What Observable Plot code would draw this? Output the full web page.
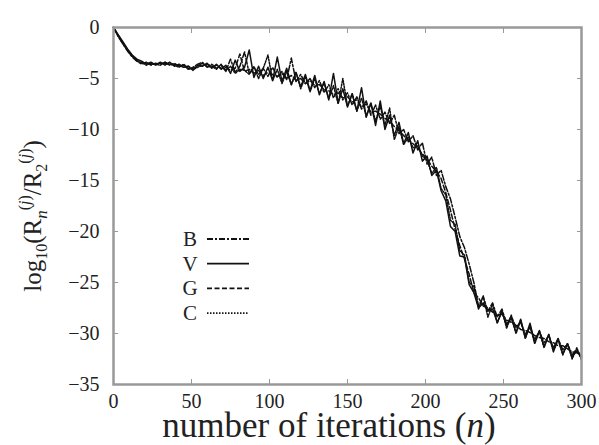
<!DOCTYPE html>
<html><head><meta charset="utf-8">
<script src="https://cdn.jsdelivr.net/npm/d3@7"></script>
<script src="https://cdn.jsdelivr.net/npm/@observablehq/plot@0.6"></script>
<style>body{margin:0;background:#fff} svg text{font-family:"Liberation Serif","Times New Roman",serif !important}</style>
</head><body><div id="chart"></div>
<script>
const seriesNames = ["B","V","G","C"];
const dashes = {B:"6,2,2,2", V:null, G:"5,2.5", C:"1.5,1.5"};
const xTicks = [0,50,100,150,200,250,300];
const yTicks = [0,-5,-10,-15,-20,-25,-30,-35];
const step = 3; // iteration spacing of the read values
const B = [0,-0.9,-1.6,-2.3,-2.9,-3.3,-3.6,-3.4,-3.7,-3.5,
 -3.6,-3.4,-3.7,-3.5,-3.8,-3.7,-4.1,-3.9,-3.6,-3.4,
 -3.9,-3.6,-4.0,-3.7,-4.3,-3.1,-4.4,-3.8,-2.4,-4.5,
 -3.9,-4.6,-4.0,-4.8,-3.9,-4.9,-4.3,-5.1,-3.0,-5.3,
 -4.6,-5.5,-5.0,-5.9,-5.2,-6.4,-5.6,-6.9,-6.0,-7.1,
 -6.4,-7.6,-6.8,-8.0,-7.2,-8.6,-7.6,-9.0,-8.3,-9.4,
 -8.6,-10.4,-10.0,-11.2,-10.6,-12.0,-11.3,-13.4,-12.7,-14.5,
 -14.0,-15.6,-16.8,-18.6,-20.5,-21.6,-23.2,-25.0,-27.3,-26.4,
 -27.8,-27.0,-28.4,-27.6,-29.1,-28.3,-29.4,-28.9,-30.1,-29.4,
 -30.6,-29.8,-30.9,-30.2,-31.4,-30.5,-31.6,-31.0,-32.1,-31.5,-32.4];
const V = [0,-0.7,-1.4,-2.1,-2.7,-3.1,-3.3,-3.6,-3.4,-3.7,
 -3.4,-3.7,-3.4,-3.8,-3.6,-3.9,-3.8,-4.2,-3.7,-3.8,
 -3.5,-4.0,-3.6,-4.1,-3.7,-4.5,-3.2,-4.3,-3.9,-2.2,
 -4.9,-3.8,-5.0,-3.9,-5.2,-2.9,-5.3,-4.0,-5.6,-4.4,
 -5.8,-4.6,-6.2,-4.7,-6.6,-5.3,-7.1,-4.5,-7.4,-6.0,
 -7.8,-6.5,-8.2,-5.9,-8.8,-7.4,-9.6,-7.2,-10.0,-8.6,
 -10.6,-9.3,-11.4,-10.3,-12.3,-11.1,-13.1,-12.6,-14.5,-14.0,
 -16.0,-17.0,-19.5,-20.0,-22.4,-22.5,-25.2,-26.0,-27.5,-27.0,
 -27.8,-27.6,-28.9,-27.9,-29.2,-28.5,-29.9,-28.6,-30.4,-29.0,
 -30.9,-29.7,-31.3,-30.1,-31.7,-30.5,-32.0,-31.0,-32.3,-31.7,-32.4];
const G = [0,-0.8,-1.5,-2.2,-2.8,-3.2,-3.5,-3.5,-3.6,-3.6,
 -3.5,-3.5,-3.6,-3.6,-3.7,-3.9,-3.8,-4.0,-3.8,-3.5,
 -3.8,-3.9,-3.7,-4.0,-3.9,-4.2,-4.0,-2.6,-4.3,-4.1,
 -4.5,-4.2,-4.7,-4.4,-4.6,-4.8,-4.5,-5.0,-4.7,-5.2,
 -5.0,-5.5,-5.2,-5.7,-5.6,-6.1,-6.2,-6.6,-6.4,-6.9,
 -6.8,-7.3,-7.1,-7.8,-7.5,-8.3,-8.2,-8.5,-8.9,-9.2,
 -9.7,-10.1,-10.6,-11.0,-11.4,-11.8,-12.4,-12.9,-13.6,-14.1,
 -14.8,-16.2,-17.9,-19.8,-21.4,-22.7,-24.2,-26.0,-26.5,-27.3,
 -27.5,-27.9,-28.2,-28.1,-28.7,-28.9,-29.2,-29.6,-29.7,-29.9,
 -30.2,-30.4,-30.5,-30.8,-30.9,-31.2,-31.2,-31.5,-31.8,-31.9,-32.2];
const C = [0,-0.8,-1.6,-2.3,-2.8,-3.3,-3.4,-3.7,-3.5,-3.6,
 -3.7,-3.4,-3.6,-3.7,-3.9,-3.6,-4.0,-4.1,-3.9,-3.7,
 -3.6,-3.8,-4.1,-3.6,-4.2,-3.8,-4.5,-4.1,-4.2,-4.6,
 -3.8,-5.0,-4.0,-2.7,-5.2,-4.1,-5.5,-4.3,-5.6,-4.4,
 -6.0,-4.8,-6.3,-5.0,-6.5,-5.4,-7.0,-5.7,-7.5,-5.0,
 -7.7,-6.5,-8.2,-6.9,-8.7,-7.4,-9.2,-7.7,-9.6,-7.9,
 -11.0,-9.7,-11.5,-10.7,-11.8,-11.6,-12.6,-13.0,-14.3,-13.7,
 -15.8,-16.4,-18.9,-19.3,-21.9,-22.3,-25.0,-25.4,-27.6,-26.3,
 -28.4,-27.1,-29.0,-27.7,-29.5,-28.2,-30.0,-28.7,-30.5,-29.2,
 -31.0,-29.8,-31.4,-30.1,-31.8,-30.6,-32.1,-31.0,-32.5,-31.4,-32.6];

const seriesValues = {B, V, G, C};
const rows = [];
for (const s of seriesNames) seriesValues[s].forEach((v,i) => rows.push({s, n: i*step, y: v}));

const serif = "Liberation Serif, Times New Roman, serif";
const frameColor = "#999";
const marks = [];
for (const s of ["C","G","B","V"]) {
  marks.push(Plot.line(rows.filter(d => d.s === s), {x:"n", y:"y", stroke:"#111", strokeWidth:1.5, strokeDasharray: dashes[s]}));
}
const svg = Plot.plot({
  width: 599, height: 445,
  marginLeft: 113, marginRight: 18, marginTop: 27, marginBottom: 61,
  style: {fontFamily: serif, fontSize: "20px", color: "#222", background: "#fff"},
  x: {domain: [0, 300]},
  y: {domain: [-35, 0]},
  marks: [
    ...marks,
    Plot.frame({stroke: frameColor, strokeWidth: 2.5}),
    Plot.axisX(xTicks, {anchor: "bottom", tickSize: -5, text: null, label: null, stroke: frameColor}),
    Plot.axisX(xTicks, {anchor: "top", tickSize: -5, text: null, label: null, stroke: frameColor}),
    Plot.axisY(yTicks, {anchor: "left", tickSize: -5, text: null, label: null, stroke: frameColor}),
    Plot.axisY(yTicks, {anchor: "right", tickSize: -5, text: null, label: null, stroke: frameColor}),
    Plot.axisX(xTicks, {anchor: "bottom", tickSize: 0, tickPadding: 9, label: null, fontSize: 20, fontFamily: serif, tickFormat: d => String(d)}),
    Plot.axisY(yTicks, {anchor: "left", tickSize: 0, tickPadding: 14, label: null, fontSize: 20, fontFamily: serif, tickFormat: d => d < 0 ? "\u2212" + Math.abs(d) : String(d)})
  ]
});
document.getElementById("chart").appendChild(svg);

const root = d3.select(svg);
// x axis title
root.append("text").attr("x", 329).attr("y", 437).attr("text-anchor", "middle")
  .attr("font-family", serif).attr("font-size", 35).attr("fill", "#222")
  .html('number of iterations (<tspan font-style="italic">n</tspan>)');
// y axis title
const yl = root.append("text").attr("transform", "translate(41,216) rotate(-90)")
  .attr("text-anchor", "middle").attr("font-family", serif)
  .attr("font-size", 25).attr("fill", "#222");
yl.html('log<tspan dy="6" font-size="16">10</tspan><tspan dy="-6">(R</tspan><tspan dy="6" font-size="17" font-style="italic">n</tspan><tspan dy="-17" font-size="16">(</tspan><tspan font-size="16" font-style="italic">j</tspan><tspan font-size="16">)</tspan><tspan dy="11">/R</tspan><tspan dy="6" font-size="16">2</tspan><tspan dy="-17" font-size="16">(</tspan><tspan font-size="16" font-style="italic">j</tspan><tspan font-size="16">)</tspan><tspan dy="11">)</tspan>');

// legend
seriesNames.forEach((s, i) => {
  const cy = 239 + i * 24.7;
  root.append("text").attr("x", 190).attr("y", cy + 7).attr("text-anchor", "middle")
    .attr("font-family", serif).attr("font-size", 21).attr("fill", "#222").text(s);
  root.append("line").attr("x1", 207).attr("x2", 249).attr("y1", cy).attr("y2", cy)
    .attr("stroke", "#111").attr("stroke-width", 1.8).attr("stroke-dasharray", dashes[s]);
});
root.selectAll("text").attr("font-family", serif);
</script>
</body></html>
